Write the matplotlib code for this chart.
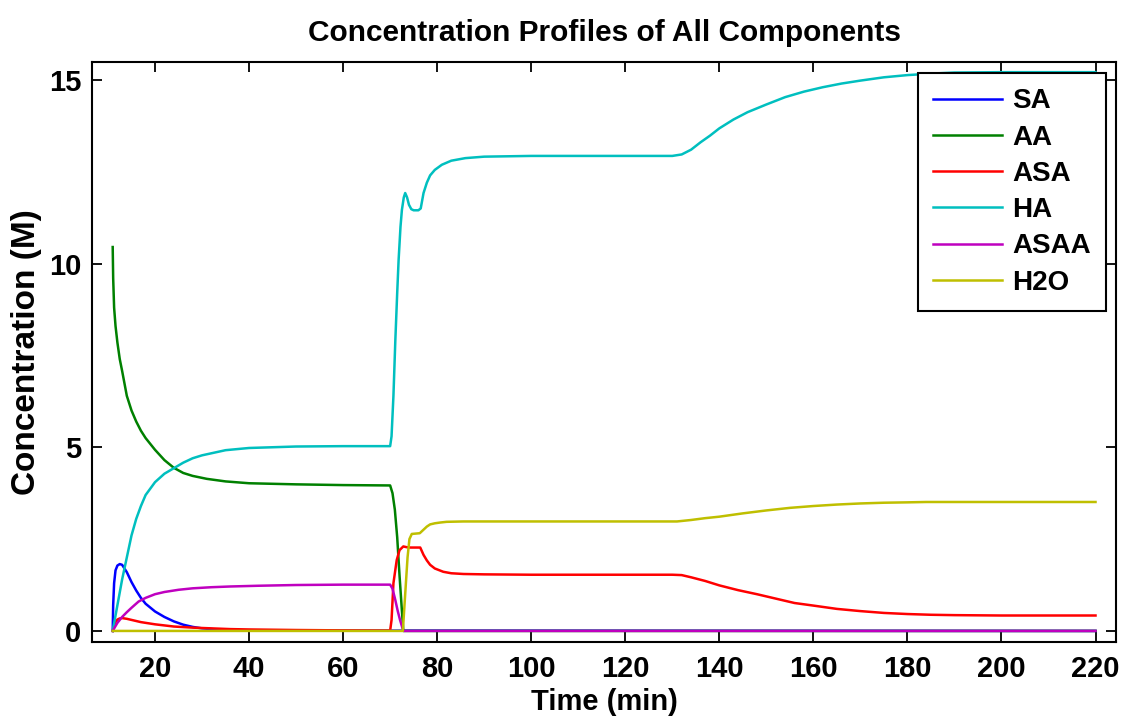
import matplotlib
matplotlib.use("Agg")
import matplotlib.pyplot as plt

plt.rcParams["font.family"] = ["Liberation Sans", "DejaVu Sans"]
plt.rcParams["font.weight"] = "bold"

# (time in min, concentration in M)
t_sa = [11, 11.1, 11.3, 11.6, 12.0, 12.5, 13.0, 13.5, 14, 15, 16, 17, 18, 20, 22, 24,
        26, 28, 30, 33, 36, 40, 220]
sa = [0, 0.7, 1.3, 1.65, 1.78, 1.82, 1.8, 1.7, 1.6, 1.33, 1.1, 0.9, 0.74, 0.53, 0.38,
      0.26, 0.17, 0.11, 0.07, 0.04, 0.02, 0.01, 0]

t_aa = [11, 11.1, 11.3, 11.6, 12, 12.5, 13, 14, 15, 16, 17, 18, 20, 22, 24, 26, 28, 31,
        35, 40, 50, 60, 70, 70.5, 71, 71.5, 72, 72.5, 72.8, 220]
aa = [10.45, 9.6, 8.8, 8.3, 7.85, 7.4, 7.08, 6.4, 6.0, 5.7, 5.45, 5.25, 4.93, 4.65,
      4.44, 4.3, 4.22, 4.14, 4.07, 4.02, 3.99, 3.97, 3.96, 3.75, 3.3, 2.55, 1.5, 0.55,
      0, 0]

t_asa = [11, 11.5, 12, 12.5, 13, 14, 15, 17, 20, 24, 28, 32, 36, 40, 50, 60, 70, 70.3,
         70.7, 71.4, 72, 72.8, 73.5, 74.3, 76.4, 77.1, 77.8, 78.5, 79.5, 81.3, 83, 85.6,
         90, 100, 130, 132, 134, 137, 140, 144, 148, 152, 156, 160, 165, 170, 175, 180,
         185, 190, 200, 220]
asa = [0, 0.22, 0.31, 0.34, 0.35, 0.33, 0.3, 0.24, 0.18, 0.12, 0.09, 0.07, 0.05, 0.04,
       0.025, 0.015, 0.01, 0.3, 1.3, 1.93, 2.2, 2.3, 2.28, 2.27, 2.27, 2.07, 1.92, 1.8,
       1.7, 1.61, 1.57, 1.55, 1.54, 1.53, 1.53, 1.52, 1.46, 1.36, 1.24, 1.11, 1.0, 0.88,
       0.76, 0.69, 0.6, 0.54, 0.49, 0.46, 0.44, 0.43, 0.42, 0.42]

t_ha = [11, 11.5, 12, 13, 14, 15, 16, 17, 18, 20, 22, 24, 26, 28, 30, 35, 40, 50, 60,
        70, 70.3, 70.7, 71.1, 71.5, 71.8, 72.2, 72.5, 72.9, 73.2, 73.6, 74, 74.5, 75, 76,
        76.5, 77.1, 77.8, 78.5, 79.5, 81, 83, 86, 90, 100, 120, 130, 132, 134, 136, 138,
        140, 143, 146, 150, 154, 158, 162, 166, 170, 175, 180, 185, 190, 200, 220]
ha = [0, 0.35, 0.7, 1.4, 2.0, 2.6, 3.05, 3.4, 3.7, 4.05, 4.28, 4.43, 4.58, 4.7, 4.78,
      4.92, 4.98, 5.02, 5.03, 5.03, 5.3, 6.4, 7.9, 9.2, 10.1, 11.0, 11.46, 11.8, 11.92,
      11.8, 11.6, 11.48, 11.45, 11.45, 11.5, 11.92, 12.2, 12.4, 12.55, 12.69, 12.8,
      12.87, 12.91, 12.93, 12.93, 12.93, 12.97, 13.1, 13.3, 13.48, 13.68, 13.92, 14.12,
      14.33, 14.53, 14.68, 14.8, 14.9, 14.98, 15.07, 15.13, 15.17, 15.2, 15.21, 15.21]

t_asaa = [11, 12, 13, 14, 15, 16.5, 18, 20, 22, 25, 28, 32, 36, 42, 50, 60, 70, 70.5,
          71.1, 71.6, 72.1, 72.8, 220]
asaa = [0, 0.22, 0.38, 0.51, 0.63, 0.8, 0.9, 1.0, 1.06, 1.12, 1.16, 1.19, 1.21, 1.23,
        1.25, 1.26, 1.26, 1.15, 0.84, 0.55, 0.3, 0, 0]

t_h2o = [11, 72.7, 73.2, 73.7, 74.1, 74.6, 76.3, 76.8, 77.8, 78.5, 79.5, 80.6, 82, 85.6,
         90, 100, 131, 134, 137, 140, 145, 150, 155, 160, 165, 170, 175, 180, 184, 190,
         200, 220]
h2o = [0, 0, 1.0, 2.0, 2.5, 2.64, 2.66, 2.72, 2.84, 2.9, 2.93, 2.95, 2.97, 2.98, 2.98,
       2.98, 2.98, 3.02, 3.07, 3.11, 3.2, 3.28, 3.35, 3.4, 3.44, 3.47, 3.49, 3.5, 3.51,
       3.51, 3.51, 3.51]

names = ["SA", "AA", "ASA", "HA", "ASAA", "H2O"]
series = [(t_sa, sa), (t_aa, aa), (t_asa, asa), (t_ha, ha), (t_asaa, asaa), (t_h2o, h2o)]
# matlab default-ish line colours
colors = ["#0000ff", "#008000", "#ff0000", "#00bfbf", "#bf00bf", "#bfbf00"]

x_ticks = list(range(20, 221, 20))
y_ticks = [0, 5, 10, 15]

fig = plt.figure(figsize=(11.21, 7.16), dpi=100)
ax = fig.add_axes([0.0825, 0.1029, 0.9128, 0.8112])

for (t, c), name, col in zip(series, names, colors):
    ax.plot(t, c, color=col, lw=1.8, label=name)

ax.set_xlim(6.7, 224.3)
ax.set_ylim(-0.31, 15.5)
ax.set_xticks(x_ticks)
ax.set_yticks(y_ticks)
ax.tick_params(direction="in", length=7.5, width=1.3, top=True, right=True,
               labelsize=21)
ax.tick_params(axis="x", pad=9)
ax.tick_params(axis="y", pad=8)
for s in ax.spines.values():
    s.set_linewidth(1.5)

ax.set_title("Concentration Profiles of All Components", fontsize=21.5,
             fontweight="bold", pad=15)
ax.set_xlabel("Time (min)", fontsize=21, fontweight="bold", labelpad=4)
ax.set_ylabel("Concentration (M)", fontsize=24, fontweight="bold", labelpad=5)

leg = ax.legend(loc="upper right", bbox_to_anchor=(1106 / 1121, 1 - 73 / 716),
                bbox_transform=fig.transFigure, borderaxespad=0, fontsize=20,
                fancybox=False, framealpha=1, edgecolor="black",
                handlelength=2.5, handletextpad=0.35, labelspacing=0.37,
                borderpad=0.55)
leg.get_frame().set_linewidth(1.5)

fig.savefig("out.png", dpi=100)
